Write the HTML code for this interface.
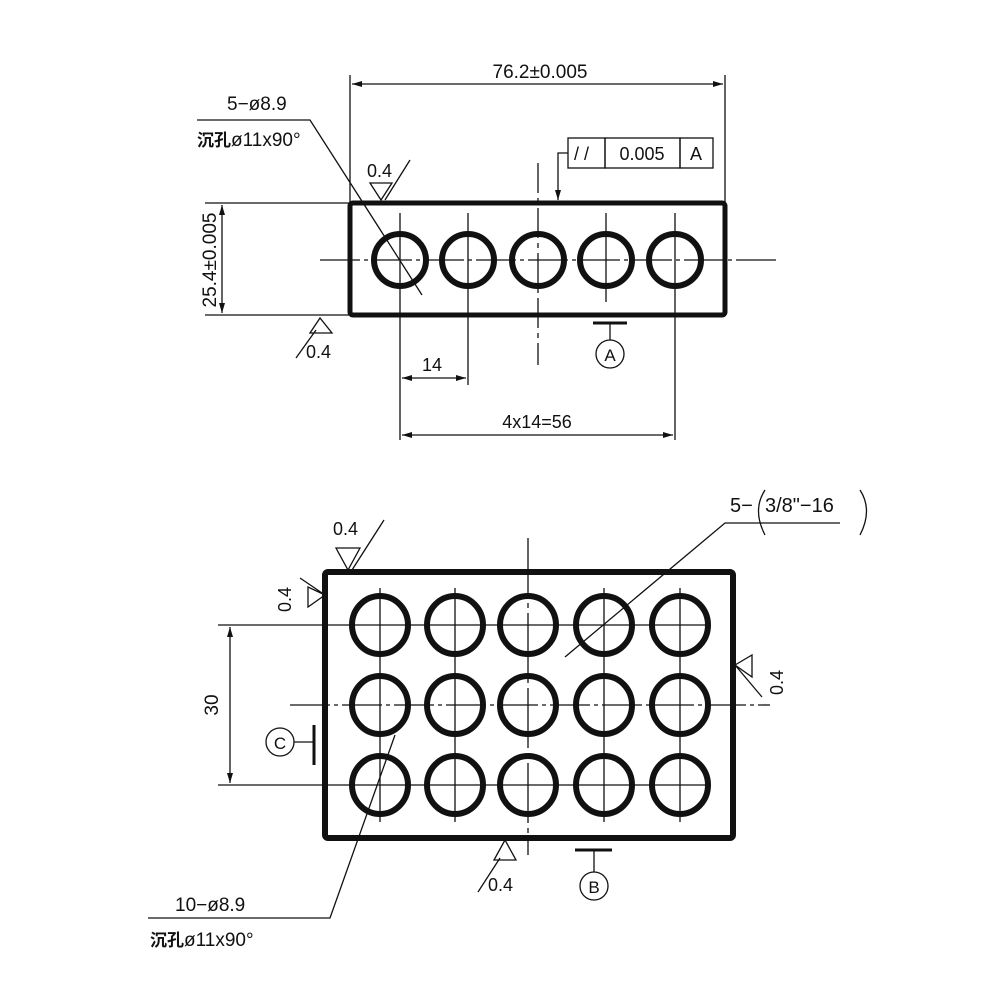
<!DOCTYPE html>
<html><head><meta charset="utf-8"><style>html,body{margin:0;padding:0;background:#fff}svg{display:block}</style></head><body>
<svg width="1000" height="1000" viewBox="0 0 1000 1000" xmlns="http://www.w3.org/2000/svg" font-family="Liberation Sans, Noto Sans CJK SC, sans-serif" fill="none" stroke="#111">
<defs><marker id="a" markerWidth="10" markerHeight="6" refX="10" refY="3" orient="auto-start-reverse" markerUnits="userSpaceOnUse"><path d="M0,0 L10,3 L0,6" fill="#111" stroke="none"/></marker></defs>
<g stroke-width="1.3">
<!-- TOP VIEW -->
<line x1="350" y1="75" x2="350" y2="203"/><line x1="725" y1="75" x2="725" y2="203"/>
<line x1="352" y1="84" x2="723" y2="84" marker-start="url(#a)" marker-end="url(#a)"/>
<line x1="205" y1="203" x2="350" y2="203"/><line x1="205" y1="315" x2="350" y2="315"/>
<line x1="222" y1="205" x2="222" y2="313" marker-start="url(#a)" marker-end="url(#a)"/>
<line x1="320" y1="260" x2="780" y2="260" stroke-dasharray="40,4,4,4"/>
<line x1="538" y1="163" x2="538" y2="365" stroke-dasharray="30,5,5,5"/>
<line x1="400" y1="213" x2="400" y2="440"/><line x1="468" y1="213" x2="468" y2="385"/>
<line x1="606" y1="213" x2="606" y2="302"/><line x1="675" y1="213" x2="675" y2="440"/>
<line x1="402" y1="378" x2="466" y2="378" marker-start="url(#a)" marker-end="url(#a)"/>
<line x1="402" y1="435" x2="673" y2="435" marker-start="url(#a)" marker-end="url(#a)"/>
<polyline points="197,120 310,120 422,295"/>
<path d="M370,183 L392,183 L381,200 Z M385,200 L410,160"/>
<path d="M320,318 L310,333 L332,333 Z M296,358 L316,330"/>
<rect x="568" y="138" width="37" height="30"/><rect x="605" y="138" width="75" height="30"/><rect x="680" y="138" width="33" height="30"/>
<polyline points="568,153 558,153 558,200" marker-end="url(#a)"/>
<line x1="593" y1="323" x2="627" y2="323" stroke-width="3"/><line x1="610" y1="323" x2="610" y2="340"/><circle cx="610" cy="354" r="14"/>
<!-- BOTTOM VIEW -->
<line x1="218" y1="625" x2="710" y2="625"/><line x1="218" y1="785" x2="710" y2="785"/>
<line x1="290" y1="705" x2="770" y2="705" stroke-dasharray="40,4,4,4"/>
<line x1="528" y1="538" x2="528" y2="855" stroke-dasharray="60,5,5,5"/>
<line x1="380" y1="588" x2="380" y2="822"/><line x1="455" y1="588" x2="455" y2="822"/><line x1="604" y1="588" x2="604" y2="822"/><line x1="680" y1="588" x2="680" y2="822"/>
<line x1="230" y1="627" x2="230" y2="783" marker-start="url(#a)" marker-end="url(#a)"/>
<circle cx="280" cy="742" r="14"/><line x1="294" y1="742" x2="313" y2="742"/><line x1="314" y1="725" x2="314" y2="765" stroke-width="3"/>
<line x1="575" y1="850" x2="612" y2="850" stroke-width="3"/><line x1="594" y1="850" x2="594" y2="872"/><circle cx="594" cy="886" r="14"/>
<path d="M336,548 L360,548 L348,570 Z M352,570 L384,520"/>
<path d="M325,595 L308,587 L308,607 Z M300,578 L325,595"/>
<path d="M735,665 L752,655 L752,677 Z M735,665 L762,697"/>
<path d="M505,840 L494,860 L516,860 Z M478,892 L500,858"/>
<polyline points="148,918 330,918 395,735"/>
<polyline points="840,523 725,523 565,657"/>
<path d="M765,490 Q752,510 765,535 M860,490 Q873,510 860,535"/>
</g>
<rect x="350" y="203" width="375" height="112" rx="3" stroke-width="5"/>
<rect x="325" y="572" width="408" height="266" rx="3" stroke-width="6"/>
<g stroke-width="6">
<circle cx="400" cy="260" r="26"/><circle cx="468" cy="260" r="26"/><circle cx="538" cy="260" r="26"/><circle cx="606" cy="260" r="26"/><circle cx="675" cy="260" r="26"/>
<g id="r"><ellipse cx="380" cy="625" rx="28" ry="29"/><ellipse cx="455" cy="625" rx="28" ry="29"/><ellipse cx="528" cy="625" rx="28" ry="29"/><ellipse cx="604" cy="625" rx="28" ry="29"/><ellipse cx="680" cy="625" rx="28" ry="29"/></g>
<use href="#r" y="80"/><use href="#r" y="160"/>
</g>
<g fill="#111" stroke="none" font-size="19">
<text x="540" y="78" text-anchor="middle">76.2±0.005</text>
<text x="227" y="110">5−ø8.9</text>
<text x="197" y="146" font-size="17" font-weight="bold">沉孔<tspan font-weight="normal" font-size="19">ø11x90°</tspan></text>
<text x="367" y="177" font-size="18">0.4</text>
<text x="306" y="358" font-size="18">0.4</text>
<text transform="translate(216,260) rotate(-90)" text-anchor="middle">25.4±0.005</text>
<text x="574" y="160" font-size="18">/ /</text>
<text x="642" y="160" text-anchor="middle" font-size="18">0.005</text>
<text x="696" y="160" text-anchor="middle" font-size="18">A</text>
<text x="610" y="361" text-anchor="middle" font-size="17">A</text>
<text x="432" y="371" text-anchor="middle" font-size="18">14</text>
<text x="537" y="428" text-anchor="middle" font-size="18">4x14=56</text>
<text x="333" y="535" font-size="18">0.4</text>
<text transform="translate(291,612) rotate(-90)" font-size="18">0.4</text>
<text transform="translate(783,695) rotate(-90)" font-size="18">0.4</text>
<text x="488" y="891" font-size="18">0.4</text>
<text x="730" y="512" font-size="20">5−</text>
<text x="765" y="512" font-size="20">3/8"−16</text>
<text transform="translate(218,705) rotate(-90)" text-anchor="middle" font-size="19">30</text>
<text x="280" y="749" text-anchor="middle" font-size="17">C</text>
<text x="594" y="893" text-anchor="middle" font-size="17">B</text>
<text x="175" y="911">10−ø8.9</text>
<text x="150" y="946" font-size="17" font-weight="bold">沉孔<tspan font-weight="normal" font-size="19">ø11x90°</tspan></text>
</g>
</svg>
</body></html>
